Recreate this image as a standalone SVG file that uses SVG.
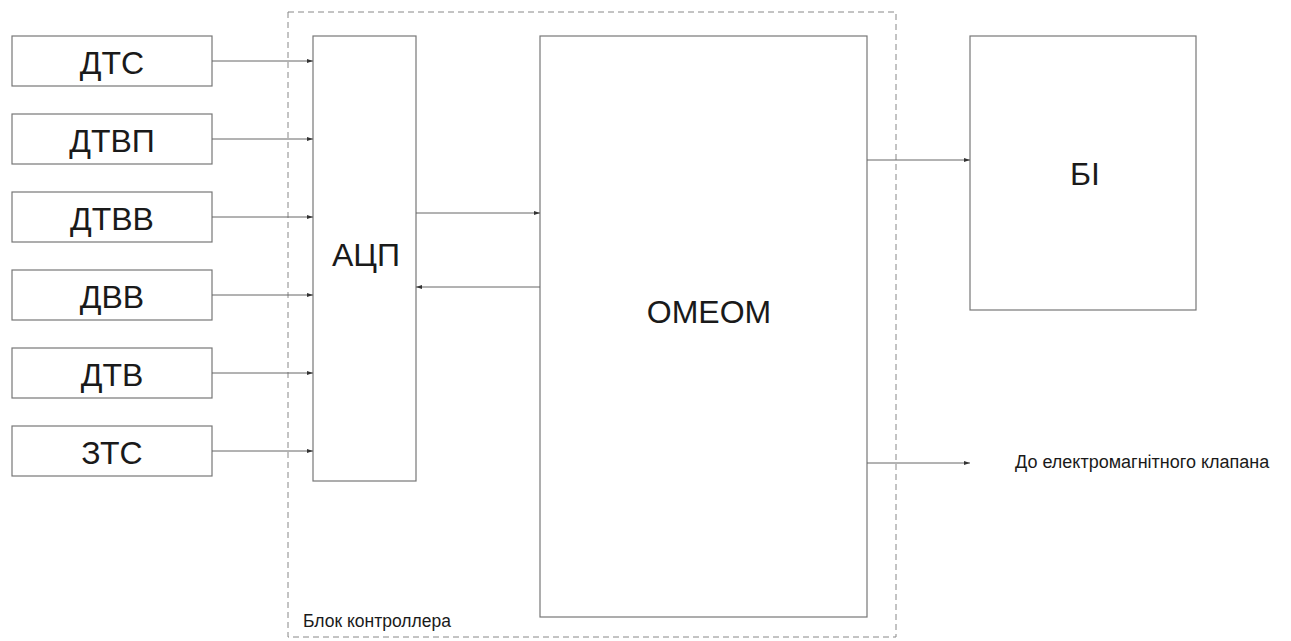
<svg xmlns="http://www.w3.org/2000/svg" width="1291" height="641" viewBox="0 0 1291 641">
<style>
.box{fill:#fff;stroke:#777;stroke-width:1.2}
.lbl{font-family:"Liberation Sans",Arial,sans-serif;font-size:32px;fill:#1a1a1a;text-anchor:middle}
.small{font-family:"Liberation Sans",Arial,sans-serif;font-size:17.5px;fill:#1a1a1a}
.conn{stroke:#666;stroke-width:1;fill:none;marker-end:url(#ah)}
</style>
<defs>
<marker id="ah" markerWidth="6" markerHeight="4" refX="6" refY="2" orient="auto" markerUnits="userSpaceOnUse">
<path d="M0,0 L6,2 L0,4 Z" fill="#333"/>
</marker>
</defs>
<rect width="1291" height="641" fill="#fff"/>
<g id="controller">
<rect x="288" y="12" width="608" height="625" fill="none" stroke="#888" stroke-width="1" stroke-dasharray="6,4"/>
<text class="small" x="303" y="627">Блок контроллера</text>
</g>
<g id="dts"><rect class="box" x="12" y="36" width="200" height="50"/><text class="lbl" x="112" y="74">ДТС</text></g>
<g id="dtvp"><rect class="box" x="12" y="114" width="200" height="50"/><text class="lbl" x="112" y="152">ДТВП</text></g>
<g id="dtvv"><rect class="box" x="12" y="192" width="200" height="50"/><text class="lbl" x="112" y="230">ДТВВ</text></g>
<g id="dvv"><rect class="box" x="12" y="270" width="200" height="50"/><text class="lbl" x="112" y="308">ДВВ</text></g>
<g id="dtv"><rect class="box" x="12" y="348" width="200" height="50"/><text class="lbl" x="112" y="386">ДТВ</text></g>
<g id="zts"><rect class="box" x="12" y="426" width="200" height="50"/><text class="lbl" x="112" y="464">ЗТС</text></g>
<g id="adc"><rect class="box" x="313" y="36" width="103" height="445"/><text class="lbl" x="366" y="266">АЦП</text></g>
<g id="omeom"><rect class="box" x="540" y="36" width="327" height="581"/><text class="lbl" x="709" y="323">ОМЕОМ</text></g>
<g id="bi"><rect class="box" x="970" y="36" width="226" height="274"/><text class="lbl" x="1085" y="185">БІ</text></g>
<g id="valve"><text class="small" x="1015" y="468" style="font-size:18px">До електромагнітного клапана</text></g>
<g id="connectors">
<line class="conn" x1="212" y1="61" x2="313" y2="61"/>
<line class="conn" x1="212" y1="139" x2="313" y2="139"/>
<line class="conn" x1="212" y1="217" x2="313" y2="217"/>
<line class="conn" x1="212" y1="295" x2="313" y2="295"/>
<line class="conn" x1="212" y1="373" x2="313" y2="373"/>
<line class="conn" x1="212" y1="451" x2="313" y2="451"/>
<line class="conn" x1="416" y1="213" x2="540" y2="213"/>
<line class="conn" x1="540" y1="287" x2="416" y2="287"/>
<line class="conn" x1="867" y1="160" x2="970" y2="160"/>
<line class="conn" x1="867" y1="463" x2="970" y2="463"/>
</g>
</svg>
